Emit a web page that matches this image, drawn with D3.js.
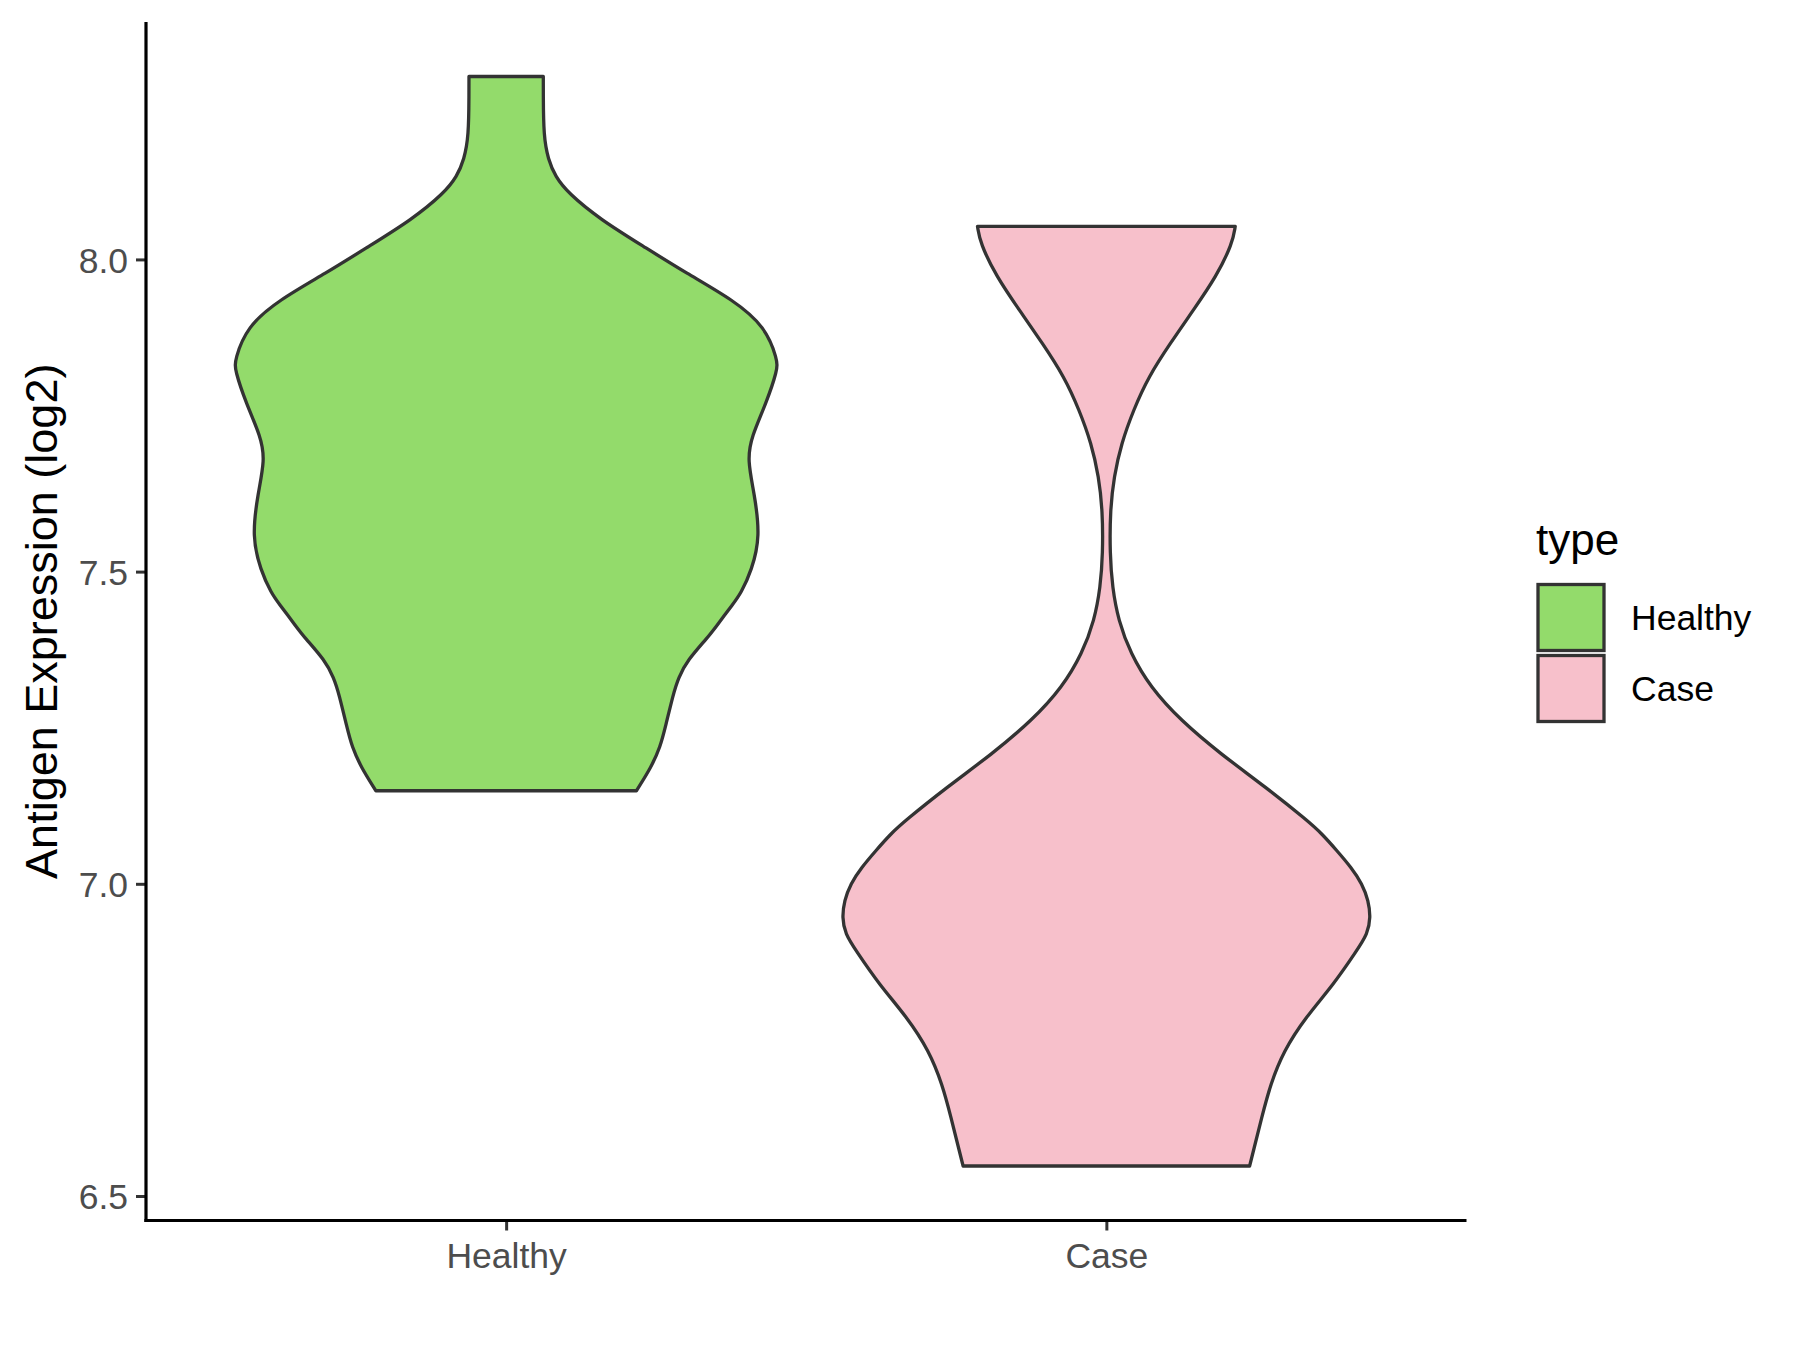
<!DOCTYPE html>
<html>
<head>
<meta charset="utf-8">
<script src="https://cdn.jsdelivr.net/npm/d3@7"></script>
<style>
  html, body { margin: 0; padding: 0; background: #ffffff; }
  svg { display: block; }
  text { font-family: "Liberation Sans", Arial, sans-serif; }
</style>
</head>
<body>
<svg id="chart" width="1800" height="1350"></svg>
<script>
// ---------------- data ----------------
const categories = ["Healthy", "Case"];

// Kernel-density outline of each violin: expression value and relative density
const healthyValues = [7.149, 7.187, 7.219, 7.251, 7.304, 7.330, 7.358, 7.395, 7.411, 7.449, 7.465,
  7.502, 7.556, 7.625, 7.679, 7.716, 7.770, 7.823, 7.839, 7.892, 7.935, 7.978, 8.021, 8.064,
  8.106, 8.133, 8.160, 8.197, 8.267, 8.293];
const healthyDensity = [0.480, 0.535, 0.568, 0.587, 0.616, 0.635, 0.668, 0.744, 0.772, 0.838, 0.865,
  0.905, 0.937, 0.915, 0.889, 0.904, 0.959, 1.000, 1.000, 0.956, 0.838, 0.664, 0.506, 0.347,
  0.229, 0.181, 0.155, 0.138, 0.137, 0.137];

const caseValues = [6.548, 6.572, 6.625, 6.679, 6.732, 6.786, 6.839, 6.893, 6.920, 6.946,
  6.973, 7.000, 7.026, 7.053, 7.080, 7.101, 7.155, 7.208, 7.262, 7.315, 7.369, 7.422, 7.475,
  7.529, 7.598, 7.652, 7.705, 7.759, 7.812, 7.866, 7.919, 7.973, 8.026, 8.053];
const caseDensity = [0.528, 0.542, 0.572, 0.605, 0.653, 0.734, 0.838, 0.923, 0.963, 0.974,
  0.966, 0.943, 0.903, 0.850, 0.795, 0.742, 0.587, 0.421, 0.273, 0.162, 0.089, 0.044, 0.022,
  0.013, 0.014, 0.028, 0.055, 0.100, 0.155, 0.236, 0.321, 0.406, 0.465, 0.475];

const yTicks = [6.5, 7.0, 7.5, 8.0];
const fillColors = ["#93DB6B", "#F7C0CB"];
const yTitle = "Antigen Expression (log2)";
const legendTitle = "type";

// ---------------- layout ----------------
const panel = { left: 146, right: 1466.5, top: 22, bottom: 1220.5 };
const svg = d3.select("#chart");

const series = [
  { name: categories[0], values: healthyValues, density: healthyDensity, fill: fillColors[0] },
  { name: categories[1], values: caseValues, density: caseDensity, fill: fillColors[1] }
];

const allVals = healthyValues.concat(caseValues);
const [vmin, vmax] = d3.extent(allVals);
const pad = (vmax - vmin) * 0.05;

const y = d3.scaleLinear().domain([vmin - pad, vmax + pad]).range([panel.bottom, panel.top]);
const x = d3.scalePoint().domain(categories).range([panel.left, panel.right]).padding(0.6);
const maxDens = d3.max(healthyDensity.concat(caseDensity));
const w = d3.scaleLinear().domain([0, maxDens]).range([0, x.step() * 0.452]);

// ---------------- violins ----------------
series.forEach(s => {
  const pts = s.values.map((v, i) => ({ v: v, d: s.density[i] }));
  const cx = x(s.name);
  const area = d3.area()
    .y(d => y(d.v))
    .x0(d => cx - w(d.d))
    .x1(d => cx + w(d.d))
    .curve(d3.curveBasis);
  svg.append("path")
    .attr("d", area(pts))
    .attr("fill", s.fill)
    .attr("stroke", "#333333")
    .attr("stroke-width", 3.3)
    .attr("stroke-linejoin", "round");
});

// ---------------- axes ----------------
const yAxis = d3.axisLeft(y).tickValues(yTicks).tickFormat(d3.format(".1f")).tickSize(10).tickPadding(8);
const gy = svg.append("g").attr("transform", `translate(${panel.left},0)`).call(yAxis);
gy.select(".domain").remove();
gy.selectAll(".tick line").attr("stroke", "#333333").attr("stroke-width", 3);
gy.selectAll(".tick text").attr("fill", "#4D4D4D").style("font-size", "35.5px")
  .attr("dy", "0.36em");

const xAxis = d3.axisBottom(x).tickSize(10).tickPadding(10);
const gx = svg.append("g").attr("transform", `translate(0,${panel.bottom})`).call(xAxis);
gx.select(".domain").remove();
gx.selectAll(".tick line").attr("stroke", "#333333").attr("stroke-width", 3);
gx.selectAll(".tick text").attr("fill", "#4D4D4D").style("font-size", "35.5px")
  .attr("dy", "0").attr("y", 47.5);

// axis lines
svg.append("line").attr("x1", panel.left).attr("x2", panel.left)
  .attr("y1", panel.top).attr("y2", panel.bottom + 1.6)
  .attr("stroke", "#000").attr("stroke-width", 3.2);
svg.append("line").attr("x1", panel.left - 1.6).attr("x2", panel.right)
  .attr("y1", panel.bottom).attr("y2", panel.bottom)
  .attr("stroke", "#000").attr("stroke-width", 3.2);

// y title
svg.append("text")
  .attr("transform", `translate(57,${(panel.top + panel.bottom) / 2}) rotate(-90)`)
  .attr("text-anchor", "middle")
  .attr("fill", "#000")
  .style("font-size", "45px")
  .text(yTitle);

// ---------------- legend ----------------
const lg = svg.append("g");
lg.append("text").attr("x", 1536).attr("y", 555).attr("fill", "#000")
  .style("font-size", "44px").text(legendTitle);
series.forEach((s, i) => {
  const top = 584.5 + i * 71;
  lg.append("rect").attr("x", 1538).attr("y", top).attr("width", 66).attr("height", 66)
    .attr("fill", s.fill).attr("stroke", "#333333").attr("stroke-width", 3.3);
  lg.append("text").attr("x", 1631).attr("y", top + 33).attr("dy", "0.36em")
    .attr("fill", "#000").style("font-size", "35.5px").text(s.name);
});
</script>
</body>
</html>
